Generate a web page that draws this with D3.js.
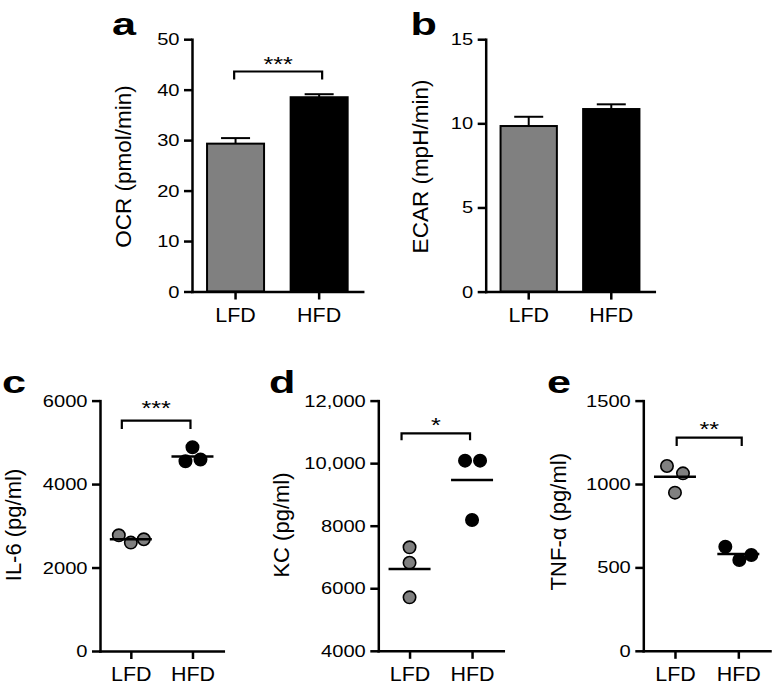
<!DOCTYPE html>
<html><head><meta charset="utf-8">
<script src="https://cdn.jsdelivr.net/npm/d3@7"></script>
<style>body{margin:0;background:#fff}</style>
</head><body>
<svg id="chart" width="773" height="685"></svg>
<script>
// ---------- data ----------
const categories = ["LFD", "HFD"];

const ocrMeans = [29.3, 38.5];
const ocrErrors = [1.1, 0.6];
const ocrTicks = [0, 10, 20, 30, 40, 50];
const ocrTickLabels = ["0", "10", "20", "30", "40", "50"];

const ecarMeans = [9.84, 10.85];
const ecarErrors = [0.55, 0.28];
const ecarTicks = [0, 5, 10, 15];
const ecarTickLabels = ["0", "5", "10", "15"];

const il6LFD = [2772, 2598, 2677];
const il6HFD = [4548, 4883, 4589];
const il6Means = [2680, 4660];
const il6Ticks = [0, 2000, 4000, 6000];
const il6TickLabels = ["0", "2000", "4000", "6000"];

const kcLFD = [7309, 6816, 5709];
const kcHFD = [10080, 10080, 8182];
const kcMeans = [6614, 9460];
const kcTicks = [4000, 6000, 8000, 10000, 12000];
const kcTickLabels = ["4000", "6000", "8000", "10,000", "12,000"];

const tnfLFD = [1108, 1064, 948];
const tnfHFD = [624, 544, 574];
const tnfMeans = [1044, 580];
const tnfTicks = [0, 500, 1000, 1500];
const tnfTickLabels = ["0", "500", "1000", "1500"];

const panelLetters = ["a", "b", "c", "d", "e"];
const axisTitles = ["OCR (pmol/min)", "ECAR (mpH/min)", "IL-6 (pg/ml)", "KC (pg/ml)", "TNF-\u03B1 (pg/ml)"];
const sigLabels = ["***", "", "***", "*", "**"];
const sigLevels = [43.6, null, 5520, 10950, 1278];

// ---------- layout / style ----------
const FONT = "'Liberation Sans', Arial, Helvetica, sans-serif";
const GRAY = "#808080";
const svg = d3.select("#chart");

const layout = [
  {left:192,   width:170.7, top:39.2,  bottom:291.5, domain:[0,50],     titleX:131, titleY:166.5, titleSize:22.5, letterX:112,   letterY:35,
   br:{o1:-1.4, o2:3, drop:8, gap:0.2}},
  {left:485.7, width:168.6, top:39.2,  bottom:291.6, domain:[0,15],     titleX:428, titleY:166.5, titleSize:22.5, letterX:410.5, letterY:35},
  {left:100,   width:123.3, top:400.6, bottom:651,   domain:[0,6000],   titleX:21,  titleY:525,   titleSize:22,   letterX:2,     letterY:393,
   br:{o1:-9, o2:-2, drop:8.3, gap:5.2}, jit:[[-12,0,13],[-7,0,8]]},
  {left:378.3, width:125,   top:400.6, bottom:650.8, domain:[4000,12000],titleX:289, titleY:525,   titleSize:22,   letterX:269,   letterY:393,
   br:{o1:-8, o2:-2, drop:6.7, gap:1.8}, jit:[[0,0,0],[-7,8,0]]},
  {left:643.3, width:126.7, top:400.6, bottom:650.8, domain:[0,1500],   titleX:566, titleY:521.7, titleSize:22,   letterX:547,   letterY:393,
   br:{o1:1.7, o2:3.4, drop:8.3, gap:1.2}, jit:[[-8,8,0],[-13,1,13]]}
];

function styleAxis(g) {
  g.selectAll(".domain").attr("stroke", "#000").attr("stroke-width", 2.5).attr("stroke-linecap", "square");
  g.selectAll(".tick line").attr("stroke", "#000").attr("stroke-width", 2.5);
}

function drawYAxis(L, y, ticks, labels) {
  const g = svg.append("g").attr("transform", `translate(${L.left},0)`)
    .call(d3.axisLeft(y).tickValues(ticks).tickFormat((d, i) => labels[i])
      .tickSize(8).tickSizeOuter(0).tickPadding(4.5));
  styleAxis(g);
  g.selectAll(".tick text").attr("font-family", FONT).attr("font-size", 17.2).attr("fill", "#000")
    .attr("x", -12.5 / 1.17).attr("transform", "scale(1.17,1)");
}

function drawXAxis(L, x) {
  const g = svg.append("g").attr("transform", `translate(0,${L.bottom})`)
    .call(d3.axisBottom(x).tickSize(8).tickSizeOuter(0).tickPadding(8.5));
  styleAxis(g);
  g.selectAll(".tick text").attr("font-family", FONT).attr("font-size", 19.5).attr("fill", "#000")
    .attr("transform", "scale(1.1,1)").attr("x", 0);
}

function drawTitle(i) {
  const L = layout[i];
  svg.append("text")
    .attr("transform", `translate(${L.titleX},${L.titleY}) rotate(-90)`)
    .attr("text-anchor", "middle").attr("font-family", FONT).attr("font-size", L.titleSize)
    .attr("fill", "#000").text(axisTitles[i]);
  svg.append("text")
    .attr("transform", `translate(${L.letterX},${L.letterY}) scale(1.35,1)`)
    .attr("font-family", FONT).attr("font-weight", "bold").attr("font-size", 32)
    .attr("fill", "#000").text(panelLetters[i]);
}

function drawBracket(i, x, y) {
  const L = layout[i];
  if (!L.br || sigLevels[i] == null) return;
  const x1 = x(categories[0]) + L.br.o1, x2 = x(categories[1]) + L.br.o2;
  const yb = y(sigLevels[i]);
  svg.append("path")
    .attr("d", `M${x1},${yb + L.br.drop}V${yb}H${x2}V${yb + L.br.drop}`)
    .attr("fill", "none").attr("stroke", "#000").attr("stroke-width", 2.2);
  svg.append("text")
    .attr("transform", `translate(${(x1 + x2) / 2},${yb - L.br.gap}) scale(1.2,1)`)
    .attr("text-anchor", "middle").attr("font-family", FONT).attr("font-size", 21)
    .attr("fill", "#000").text(sigLabels[i]);
}

// ---------- bar panels ----------
function barPanel(i, means, errors, ticks, labels) {
  const L = layout[i];
  const x = d3.scaleBand().domain(categories).range([L.left, L.left + L.width])
    .paddingInner(0.318).paddingOuter(0.18);
  const y = d3.scaleLinear().domain(L.domain).range([L.bottom, L.top]);
  const fills = [GRAY, "#000"];
  const g = svg.append("g");
  categories.forEach((c, k) => {
    const cx = x(c) + x.bandwidth() / 2;
    const yt = y(means[k] + errors[k]);
    g.append("line").attr("x1", cx).attr("x2", cx).attr("y1", y(means[k])).attr("y2", yt)
      .attr("stroke", "#000").attr("stroke-width", 2);
    g.append("line").attr("x1", cx - 14.5).attr("x2", cx + 14.5).attr("y1", yt).attr("y2", yt)
      .attr("stroke", "#000").attr("stroke-width", 2);
  });
  g.selectAll("rect").data(means).join("rect")
    .attr("x", (d, k) => x(categories[k]))
    .attr("width", x.bandwidth())
    .attr("y", d => y(d))
    .attr("height", d => y(L.domain[0]) - y(d))
    .attr("fill", (d, k) => fills[k])
    .attr("stroke", "#000").attr("stroke-width", 2);
  drawXAxis(L, x);
  drawYAxis(L, y, ticks, labels);
  drawTitle(i);
  drawBracket(i, (c) => x(c) + x.bandwidth() / 2, y);
}

// ---------- dot panels ----------
function dotPanel(i, groups, means, ticks, labels) {
  const L = layout[i];
  const x = d3.scalePoint().domain(categories).range([L.left, L.left + L.width]).padding(0.5);
  const y = d3.scaleLinear().domain(L.domain).range([L.bottom, L.top]);
  const fills = [GRAY, "#000"];
  const g = svg.append("g");
  groups.forEach((vals, k) => {
    g.selectAll(null).data(vals).join("circle")
      .attr("cx", (d, j) => x(categories[k]) + L.jit[k][j])
      .attr("cy", d => y(d))
      .attr("r", 6.2)
      .attr("fill", fills[k]).attr("stroke", "#000").attr("stroke-width", 1.6);
  });
  g.selectAll("line.mean").data(means).join("line").attr("class", "mean")
    .attr("x1", (d, k) => x(categories[k]) - 21)
    .attr("x2", (d, k) => x(categories[k]) + 21)
    .attr("y1", d => y(d)).attr("y2", d => y(d))
    .attr("stroke", "#000").attr("stroke-width", 2.5);
  drawXAxis(L, x);
  drawYAxis(L, y, ticks, labels);
  drawTitle(i);
  drawBracket(i, x, y);
}

barPanel(0, ocrMeans, ocrErrors, ocrTicks, ocrTickLabels);
barPanel(1, ecarMeans, ecarErrors, ecarTicks, ecarTickLabels);
dotPanel(2, [il6LFD, il6HFD], il6Means, il6Ticks, il6TickLabels);
dotPanel(3, [kcLFD, kcHFD], kcMeans, kcTicks, kcTickLabels);
dotPanel(4, [tnfLFD, tnfHFD], tnfMeans, tnfTicks, tnfTickLabels);
</script>
</body></html>
